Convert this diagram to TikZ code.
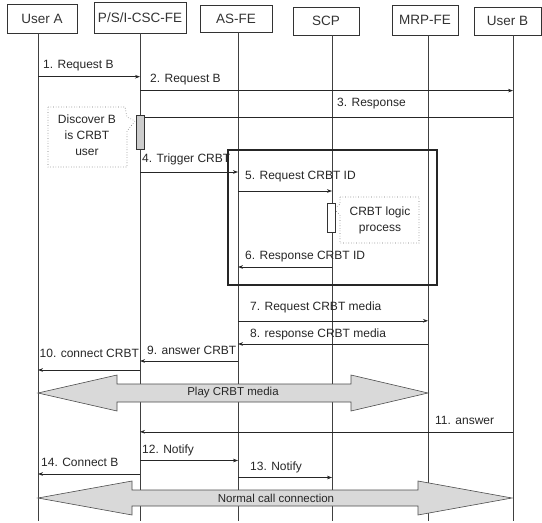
\documentclass[tikz,border=0pt]{standalone}
\usepackage{fontspec}
\setmainfont{Liberation Sans}
\usetikzlibrary{arrows.meta}
\tikzset{
  headbox/.style={draw=black!80, line width=0.6pt, inner sep=0pt, font=\fontsize{13.5}{15}\selectfont, text=black!80},
  lifeline/.style={draw=black!75, line width=0.6pt},
  msg/.style={draw=black!85, line width=0.6pt, -{Stealth[length=5pt,width=3.6pt]}},
  lbl/.style={anchor=west, inner sep=0pt, font=\fontsize{12}{14}\selectfont, text=black!85},
  notetext/.style={inner sep=0pt, font=\fontsize{12}{14}\selectfont, text=black!85, align=center},
  notebox/.style={draw=black!55, dotted, line width=0.6pt},
  actbar/.style={draw=black!80, line width=0.6pt},
  blockarrow/.style={draw=black!70, line width=0.6pt, fill=gray!30},
  bandtext/.style={inner sep=0pt, font=\fontsize{11.5}{13}\selectfont, text=black!85},
  framebox/.style={draw=black!85, line width=2.2pt}
}
\begin{document}
\begin{tikzpicture}[x=1pt,y=-1pt]
\useasboundingbox (0,0) rectangle (542,523);

% header boxes
\node[headbox, minimum width=70pt, minimum height=29pt] (ua) at (42,18.5) {User A};
\node[headbox, minimum width=92pt, minimum height=31pt] (pf) at (140,17.5) {P/S/I-CSC-FE};
\node[headbox, minimum width=72pt, minimum height=27pt] (as) at (236,18.5) {AS-FE};
\node[headbox, minimum width=66pt, minimum height=28pt] (scp) at (326,21) {SCP};
\node[headbox, minimum width=66pt, minimum height=30pt] (mrp) at (425,20) {MRP-FE};
\node[headbox, minimum width=67pt, minimum height=28pt] (ub) at (507.5,21) {User B};

% lifeline coordinates
\coordinate (la) at (38,33);   \coordinate (laE) at (38,521);
\coordinate (lp) at (140,33);  \coordinate (lpE) at (140,521);
\coordinate (ls) at (238,32);  \coordinate (lsE) at (238,521);
\coordinate (lc) at (332,35);  \coordinate (lcE) at (332,521);
\coordinate (lm) at (428,35);  \coordinate (lmE) at (428,521);
\coordinate (lb) at (513,35);  \coordinate (lbE) at (513,521);

\draw[lifeline] (la) -- (laE);
\draw[lifeline] (lp) -- (lpE);
\draw[lifeline] (ls) -- (lsE);
\draw[lifeline] (lc) -- (lcE);
\draw[lifeline] (lm) -- (lmE);
\draw[lifeline] (lb) -- (lbE);

% 1
\node[lbl] (l1) at (43,65.7) {1. Request B};
\draw[msg] (la |- 0,76.7) -- (lp |- 0,76.7);
% 2
\node[lbl] (l2) at (150,80) {2. Request B};
\draw[msg] (lp |- 0,90.6) -- (lb |- 0,90.6);
% 3
\node[lbl] (l3) at (337,104) {3. Response};
\draw[msg] (lb |- 0,117.5) -- (lp |- 0,117.5);

% Discover note
\draw[notebox] (48,107) -- (125,107) -- (127,117) -- (135,121) -- (127,131) -- (127,167) -- (48,167) -- cycle;
\node[notetext] (n1) at (87,135) {Discover B\\[2pt]is CRBT\\[2pt]user};
\draw[actbar, fill=gray!40] (136,115) rectangle (144,149);

% 4
\node[lbl] (l4) at (142,159) {4. Trigger CRBT};
\draw[msg] (lp |- 0,172) -- (ls |- 0,172);

% frame
\draw[framebox] (228,150) rectangle (437,285);

% 5
\node[lbl] (l5) at (245,177) {5. Request CRBT ID};
\draw[msg] (ls |- 0,191) -- (lc |- 0,191);
% CRBT logic note
\draw[notebox] (340,197) -- (419,197) -- (419,243) -- (340,243) -- (340,215) -- (334,209) -- (340,204) -- cycle;
\node[notetext] (n2) at (380,220) {CRBT logic\\[2pt]process};
\draw[actbar, fill=white] (327,203) rectangle (335,232);
% 6
\node[lbl] (l6) at (245,257) {6. Response CRBT ID};
\draw[msg] (lc |- 0,267) -- (ls |- 0,267);

% 7
\node[lbl] (l7) at (250,307.6) {7. Request CRBT media};
\draw[msg] (ls |- 0,320.8) -- (lm |- 0,320.8);
% 8
\node[lbl] (l8) at (250,334) {8. response CRBT media};
\draw[msg] (lm |- 0,344) -- (ls |- 0,344);
% 9
\node[lbl] (l9) at (147,350) {9. answer CRBT};
\draw[msg] (ls |- 0,361) -- (lp |- 0,361);
% 10
\node[lbl] (l10) at (39.5,353) {10. connect CRBT};
\draw[msg] (lp |- 0,370) -- (la |- 0,370);

% Play CRBT media
\draw[blockarrow] (38,393) -- (117,375) -- (117,384) -- (351,384) -- (351,375) -- (428,393)
  -- (351,411) -- (351,402) -- (117,402) -- (117,411) -- cycle;
\node[bandtext] (b1) at (233,393) {Play CRBT media};

% 11
\node[lbl] (l11) at (435,420.7) {11. answer};
\draw[msg] (lb |- 0,431.8) -- (lp |- 0,431.8);
% 12
\node[lbl] (l12) at (142,450) {12. Notify};
\draw[msg] (lp |- 0,460.5) -- (ls |- 0,460.5);
% 14
\node[lbl] (l14) at (41,462) {14. Connect B};
\draw[msg] (lp |- 0,474) -- (la |- 0,474);
% 13
\node[lbl] (l13) at (250,467) {13. Notify};
\draw[msg] (ls |- 0,477.5) -- (lc |- 0,477.5);

% Normal call connection
\draw[blockarrow] (38,498) -- (132,481) -- (132,490) -- (418,490) -- (418,481) -- (512,498)
  -- (418,515) -- (418,506) -- (132,506) -- (132,515) -- cycle;
\node[bandtext] (b2) at (276,498) {Normal call connection};
\end{tikzpicture}
\end{document}
